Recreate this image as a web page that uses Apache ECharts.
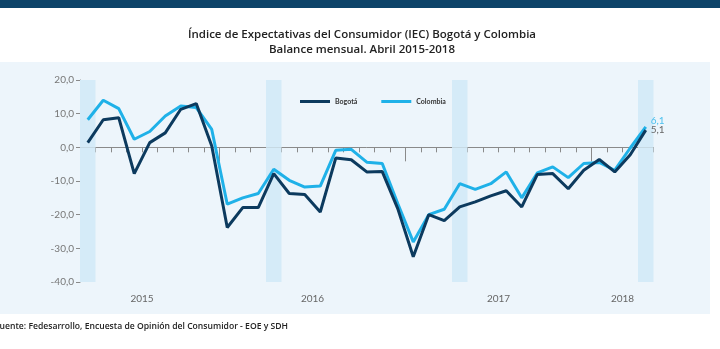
<!DOCTYPE html>
<html>
<head>
<meta charset="utf-8">
<script src="https://cdn.jsdelivr.net/npm/echarts@6/dist/echarts.min.js"></script>
<style>
html,body{margin:0;padding:0;background:#fff;}
#c{width:720px;height:349px;}
</style>
</head>
<body>
<div id="c"></div>
<script>
const categories = ['Abr 2015','May 2015','Jun 2015','Jul 2015','Ago 2015','Sep 2015','Oct 2015','Nov 2015','Dic 2015',
  'Ene 2016','Feb 2016','Mar 2016','Abr 2016','May 2016','Jun 2016','Jul 2016','Ago 2016','Sep 2016','Oct 2016','Nov 2016','Dic 2016',
  'Ene 2017','Feb 2017','Mar 2017','Abr 2017','May 2017','Jun 2017','Jul 2017','Ago 2017','Sep 2017','Oct 2017','Nov 2017','Dic 2017',
  'Ene 2018','Feb 2018','Mar 2018','Abr 2018'];
const bogota = [1.4, 8.2, 8.8, -7.8, 1.4, 4.3, 11.3, 13.0, 0.4,
  -23.8, -17.9, -17.9, -7.8, -13.7, -14.0, -19.2, -3.2, -3.7, -7.3, -7.2, -18.2,
  -32.5, -20.0, -21.8, -17.7, -16.2, -14.4, -12.9, -17.7, -8.1, -7.8, -12.3, -6.8,
  -3.6, -7.3, -2.2, 5.1];
const colombia = [8.2, 14.0, 11.5, 2.4, 4.7, 9.3, 12.3, 11.8, 5.3,
  -16.9, -15.0, -13.7, -6.5, -9.8, -11.8, -11.5, -0.9, -0.6, -4.4, -4.8, -16.7,
  -28.1, -20.0, -18.4, -10.8, -12.5, -10.8, -7.3, -15.0, -7.6, -5.8, -9.0, -4.8,
  -4.5, -6.8, -0.2, 6.1];
const highlightMonths = ['Abr 2015','Abr 2016','Abr 2017','Abr 2018'];
const yearLabels = ['2015','2016','2017','2018'];
// label position in month-boundary units (0 = start of Abr 2015)
const yearLabelAt = [4, 15, 27, 35];
// year separators (start of each January)
const yearBreakAt = [9, 21, 33];
const yMin = -40, yMax = 20, yStep = 10;
const seriesNames = ['Bogotá', 'Colombia'];
const titleText = 'Índice de Expectativas del Consumidor (IEC) Bogotá y Colombia\nBalance mensual. Abril 2015-2018';
const sourceText = 'Fuente: Fedesarrollo, Encuesta de Opinión del Consumidor - EOE y SDH';

const fmt = v => Number(v).toFixed(1).replace('.', ',');
const hiTop = categories.map(c => highlightMonths.includes(c) ? yMax : '-');
const hiBot = categories.map(c => highlightMonths.includes(c) ? yMin : '-');
const FONT = 'Lato';
const TFONT = 'Open Sans';

const chart = echarts.init(document.getElementById('c'), null, {renderer: 'canvas'});
chart.setOption({
  animation: false,
  textStyle: {fontFamily: FONT},
  graphic: [
    {type: 'rect', z: -10, silent: true, shape: {x: 0, y: 0, width: 720, height: 8}, style: {fill: '#0d4469'}},
    {type: 'rect', z: -10, silent: true, shape: {x: 0, y: 62, width: 710, height: 252}, style: {fill: '#edf5fb'}},
    {type: 'text', z: 10, silent: true, x: -5, y: 327,
      style: {text: sourceText, fill: '#222', font: '600 8.6px "' + TFONT + '"', textVerticalAlign: 'middle'}}
  ],
  title: {
    text: titleText, left: 357, textAlign: 'center', top: 22,
    textStyle: {fontSize: 11.5, fontWeight: 600, color: '#222', lineHeight: 15, fontFamily: TFONT}
  },
  legend: {
    data: seriesNames, left: 295, top: 93, icon: 'rect', itemWidth: 30, itemHeight: 3, itemGap: 24,
    textStyle: {fontSize: 7, fontWeight: 'bold', color: '#333', fontFamily: FONT}
  },
  grid: {left: 80, right: 66.5, top: 80, bottom: 67, containLabel: false},
  xAxis: [
    {
      type: 'category', data: categories, boundaryGap: true, position: 'bottom',
      axisLine: {onZero: true, lineStyle: {color: '#8a8a8a', width: 1}},
      axisTick: {show: true, interval: 0, length: 5, lineStyle: {color: '#8a8a8a'}},
      axisLabel: {show: false}, splitLine: {show: false}
    },
    {
      type: 'value', min: 0, max: categories.length, position: 'bottom',
      axisLine: {show: false, onZero: true, onZeroAxisIndex: 1},
      axisTick: {show: true, customValues: yearBreakAt, length: 14, lineStyle: {color: '#8a8a8a'}},
      axisLabel: {show: false}, splitLine: {show: false}
    },
    {
      type: 'value', min: 0, max: categories.length, position: 'bottom',
      axisLine: {show: false, onZero: false},
      axisTick: {show: false},
      axisLabel: {show: true, customValues: yearLabelAt, margin: 12, fontSize: 10, color: '#666', fontFamily: FONT,
        formatter: v => yearLabels[yearLabelAt.indexOf(v)] || ''},
      splitLine: {show: false}
    }
  ],
  yAxis: [
    {
      type: 'value', min: yMin, max: yMax, interval: yStep, position: 'left',
      axisLine: {show: true, onZero: false, lineStyle: {color: '#8a8a8a'}},
      axisTick: {show: true, length: 4, lineStyle: {color: '#8a8a8a'}},
      axisLabel: {fontSize: 10, color: '#777', margin: 6, formatter: fmt, fontFamily: FONT},
      splitLine: {show: false}
    },
    {
      type: 'value', min: yMin, max: yMax, interval: yStep, show: false, splitLine: {show: false}
    }
  ],
  series: [
    {type: 'bar', name: 'band1', data: hiTop, barWidth: '100%', barGap: '-100%', z: 1, silent: true,
      itemStyle: {color: '#d5ebf8'}, legendHoverLink: false},
    {type: 'bar', name: 'band2', data: hiBot, barWidth: '100%', barGap: '-100%', z: 1, silent: true,
      itemStyle: {color: '#d5ebf8'}, legendHoverLink: false},
    {type: 'line', name: seriesNames[0], data: bogota, symbol: 'none', z: 4,
      lineStyle: {color: '#0c3a5e', width: 3}, itemStyle: {color: '#0c3a5e'},
      endLabel: {show: true, formatter: p => fmt(p.value), color: '#666', fontSize: 10, distance: 5, offset: [0, 0], fontFamily: FONT}
    },
    {type: 'line', name: seriesNames[1], data: colombia, symbol: 'none', z: 3,
      lineStyle: {color: '#1fb1e8', width: 3}, itemStyle: {color: '#1fb1e8'},
      endLabel: {show: true, formatter: p => fmt(p.value), color: '#4cc0ee', fontSize: 10, distance: 5, offset: [0, -6], fontFamily: FONT}
    }
  ]
});
</script>
</body>
</html>
